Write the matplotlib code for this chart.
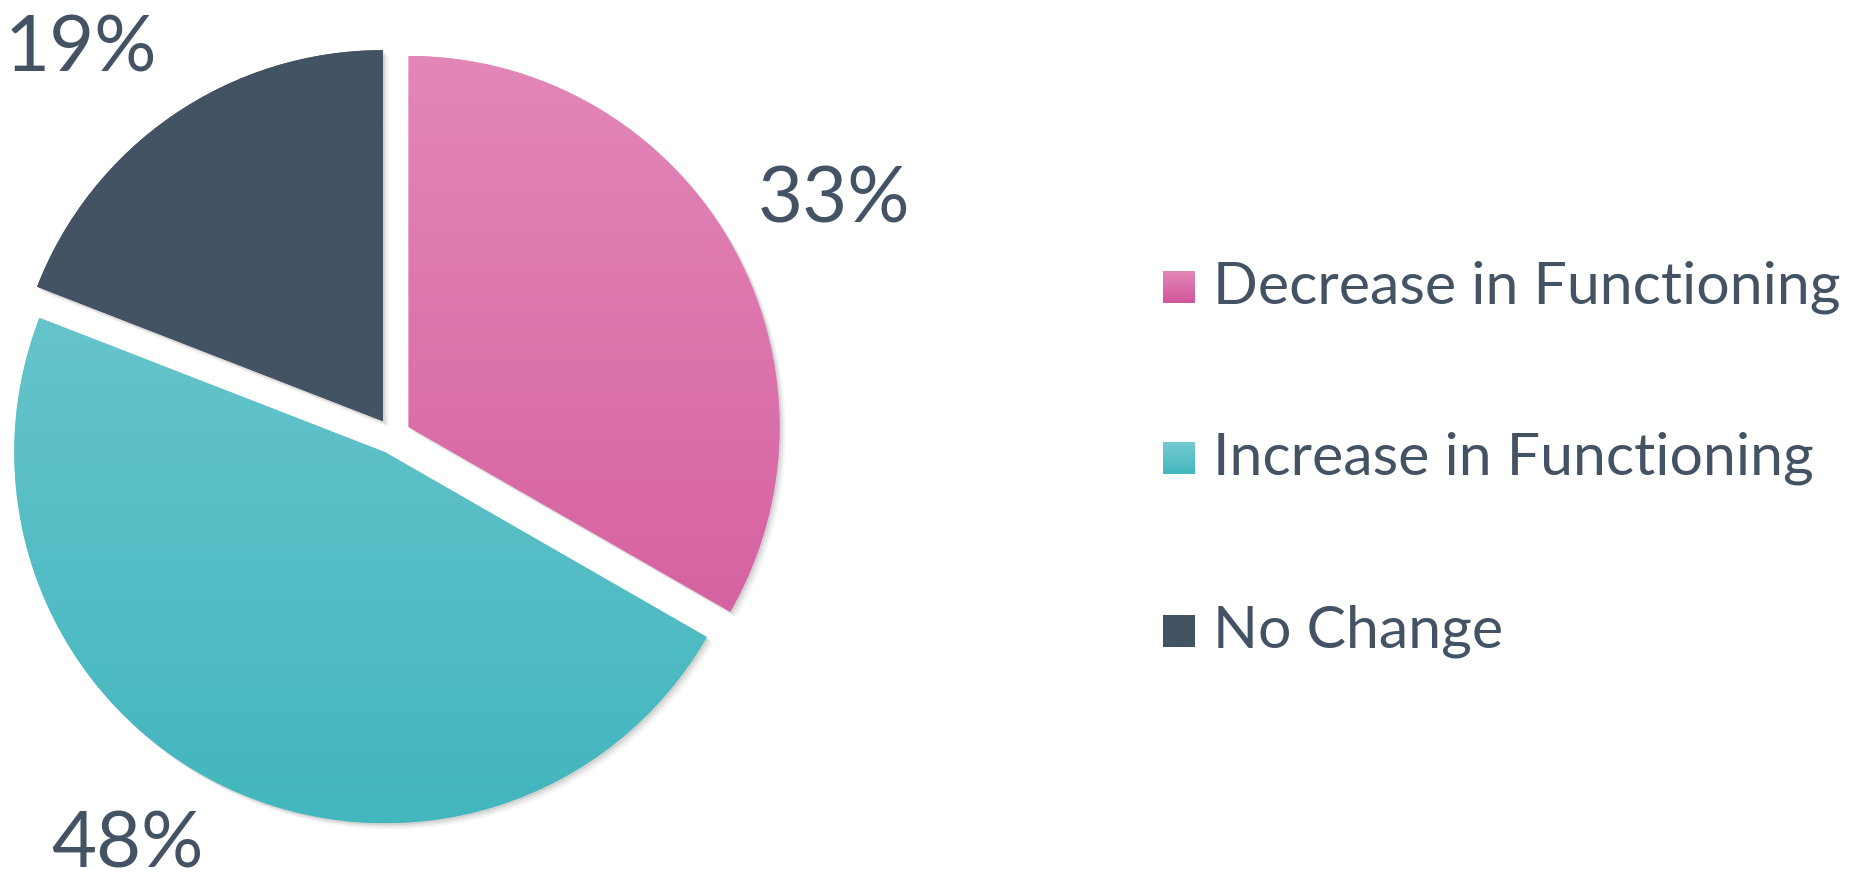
import numpy as np
import matplotlib
matplotlib.use('Agg')
import matplotlib.pyplot as plt
from matplotlib.colors import LinearSegmentedColormap
from matplotlib.patches import Rectangle, Wedge

categories = ['Decrease in Functioning', 'Increase in Functioning', 'No Change']
shares = [33.3, 47.6, 19.1]
labels = ['33%', '48%', '19%']

top_colors = ['#e387b8', '#76cad2', '#435363']
bottom_colors = ['#d2569a', '#43b6be', '#435363']
text_color = '#435363'

W, H = 1867, 884
plt.rcParams['font.family'] = ['Lato', 'DejaVu Sans']

fig = plt.figure(figsize=(W / 100, H / 100), dpi=100)
ax = fig.add_axes([0, 0, 1, 1])

cx, cy, r = 393, H - 436, 371
wedges, _ = ax.pie(shares, center=(cx, cy), radius=r, startangle=90,
                   counterclock=False, explode=[18] * 3,
                   colors=top_colors, wedgeprops=dict(linewidth=0))

# soft shadow + vertical gradient fill clipped to each wedge
grad = np.linspace(0, 1, 256).reshape(-1, 1)
for w, c0, c1 in zip(wedges, top_colors, bottom_colors):
    x0, y0 = w.center
    for k, a in [(6, 0.04), (4, 0.06), (2, 0.08)]:
        sh = Wedge((x0 + k, y0 - k), r, w.theta1, w.theta2,
                   color='black', alpha=a, lw=0, zorder=0.5)
        ax.add_patch(sh)
    w.set_zorder(1)
    cmap = LinearSegmentedColormap.from_list('g', [c0, c1])
    im = ax.imshow(grad, cmap=cmap, aspect='auto', origin='upper',
                   extent=(x0 - r, x0 + r, y0 - r, y0 + r), zorder=2)
    im.set_clip_path(w)

# percentage labels
label_pos = [(834, 201), (127, 846), (81, 50)]
for (px, py), t in zip(label_pos, labels):
    ax.text(px, H - py, t, fontsize=56, color=text_color,
            ha='center', va='center')

# legend
row_y = [287, 458, 631]
for yy, cat, c0, c1 in zip(row_y, categories, top_colors, bottom_colors):
    sq = Rectangle((1163, H - yy - 16), 32, 32, color=c1, lw=0)
    ax.add_patch(sq)
    cmap = LinearSegmentedColormap.from_list('g', [c0, c1])
    im = ax.imshow(grad, cmap=cmap, aspect='auto', origin='upper',
                   extent=(1163, 1195, H - yy - 16, H - yy + 16), zorder=3)
    im.set_clip_path(sq)
    ax.text(1213, H - yy, cat, fontsize=42.5, color=text_color,
            ha='left', va='center')

ax.set_xlim(0, W)
ax.set_ylim(0, H)
ax.set_aspect('auto')
ax.axis('off')

fig.savefig('out.png', dpi=100)
